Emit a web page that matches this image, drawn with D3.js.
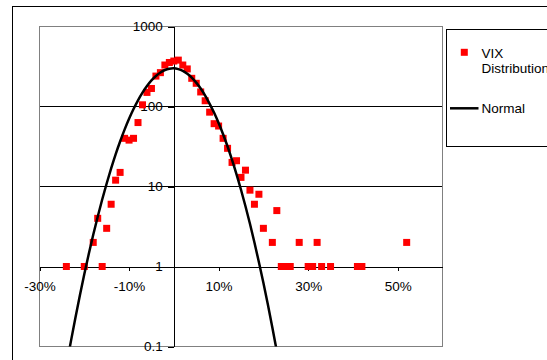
<!DOCTYPE html>
<html>
<head>
<meta charset="utf-8">
<script src="https://d3js.org/d3.v7.min.js"></script>
<style>
  body { margin: 0; background: #fff; }
  svg { display: block; font-family: 'Liberation Sans', Arial, sans-serif; }
  .axis text { font-size: 13.5px; fill: #000; font-family: 'Liberation Sans', Arial, sans-serif; }
  .axis path, .axis line { stroke: #000; shape-rendering: crispEdges; }
  .legend-text { font-size: 13.5px; fill: #000; }
</style>
</head>
<body>
<div id="chart"></div>
<script>
// VIX daily change histogram (% change, count)
var vixChange = [-24, -20, -18, -17, -16, -15, -14, -13, -12, -11, -10, -9, -8, -7, -6, -5, -4, -3, -2, -1,
    0, 1, 2, 3, 4, 5, 6, 7, 8, 9, 10, 11, 12, 13, 14, 15, 16, 17, 18, 19, 20,
    22, 23, 24, 25, 26, 28, 30, 31, 32, 33, 35, 41, 42, 52];
var vixCount = [1, 1, 2, 4, 1, 3, 6, 12, 15, 40, 38, 40, 63, 105, 150, 168, 240, 265, 330, 355,
    370, 380, 330, 295, 225, 195, 152, 118, 85, 61, 57, 40, 30, 20, 21, 13, 16, 9, 6, 8, 3,
    2, 5, 1, 1, 1, 2, 1, 1, 2, 1, 1, 1, 1, 2];

// normal curve
var normalX = [-24, -23, -22, -21, -20, -19, -18, -17, -16, -15, -14, -13, -12, -11, -10, -9, -8, -7, -6, -5, -4, -3, -2, -1,
    0, 1, 2, 3, 4, 5, 6, 7, 8, 9, 10, 11, 12, 13, 14, 15, 16, 17, 18, 19, 20, 21, 22, 23, 24];
var normalY = [0.057, 0.115, 0.226, 0.43, 0.8, 1.43, 2.49, 4.19, 6.87, 10.9, 16.8, 25.2, 36.5, 51.4, 70.2, 92.9, 119.5, 149, 180, 212, 241, 266, 286, 297,
    300, 293, 279, 257, 230, 199, 168, 137, 108, 83.4, 62.2, 45, 31.6, 21.5, 14.2, 9.1, 5.66, 3.42, 2.0, 1.13, 0.625, 0.334, 0.173, 0.087, 0.043];

// axis ticks
var xTicks = [-30, -10, 10, 30, 50];
var yTicks = [0.1, 1, 10, 100, 1000];
var gridValues = [100, 10];

var svgWidth = 547;
var svgHeight = 360;

// plot area
var plot = { left: 39.5, top: 26.5, right: 442.5, bottom: 346.5 };

var svg = d3.select('#chart')
    .append('svg')
    .attr('width', svgWidth)
    .attr('height', svgHeight);

var xScale = d3.scaleLinear()
    .domain([-30, 60])
    .range([plot.left, plot.right]);

var yScale = d3.scaleLog()
    .domain([0.1, 1000])
    .range([plot.bottom, plot.top]);

// outer chart border
svg.append('rect')
    .attr('x', 12.5)
    .attr('y', 6.5)
    .attr('width', 700)
    .attr('height', 500)
    .attr('fill', '#fff')
    .attr('stroke', '#000');

svg.append('clipPath')
    .attr('id', 'plot-clip')
    .append('rect')
    .attr('x', plot.left)
    .attr('y', plot.top)
    .attr('width', plot.right - plot.left)
    .attr('height', plot.bottom - plot.top);

// gridlines
svg.append('g')
    .selectAll('line')
    .data(gridValues)
    .enter()
    .append('line')
    .attr('x1', plot.left)
    .attr('x2', plot.right)
    .attr('y1', d => yScale(d))
    .attr('y2', d => yScale(d))
    .attr('stroke', '#000')
    .attr('shape-rendering', 'crispEdges');

// plot area border
svg.append('rect')
    .attr('x', plot.left)
    .attr('y', plot.top)
    .attr('width', plot.right - plot.left)
    .attr('height', plot.bottom - plot.top)
    .attr('fill', 'none')
    .attr('stroke', '#808080')
    .attr('shape-rendering', 'crispEdges');

// y axis at x = 0
svg.append('g')
    .attr('class', 'axis')
    .attr('transform', `translate(${xScale(0)}, 0)`)
    .call(d3.axisLeft(yScale)
        .tickValues(yTicks)
        .tickFormat(d => String(d))
        .tickSize(6)
        .tickSizeOuter(0)
        .tickPadding(5));

// x axis crosses at 1
svg.append('g')
    .attr('class', 'axis')
    .attr('transform', `translate(0, ${yScale(1)})`)
    .call(d3.axisBottom(xScale)
        .tickValues(xTicks)
        .tickFormat(d => d + '%')
        .tickSize(4)
        .tickSizeOuter(0)
        .tickPadding(11));

// VIX markers
var markerSize = 7;
svg.append('g')
    .attr('clip-path', 'url(#plot-clip)')
    .selectAll('rect')
    .data(vixChange)
    .enter()
    .append('rect')
    .attr('x', d => xScale(d) - markerSize / 2)
    .attr('y', (d, i) => yScale(vixCount[i]) - markerSize / 2)
    .attr('width', markerSize)
    .attr('height', markerSize)
    .attr('fill', '#ff0000');

// normal curve
var line = d3.line()
    .x(d => xScale(d))
    .y((d, i) => yScale(normalY[i]))
    .curve(d3.curveCatmullRom);

svg.append('path')
    .datum(normalX)
    .attr('clip-path', 'url(#plot-clip)')
    .attr('d', line)
    .attr('fill', 'none')
    .attr('stroke', '#000')
    .attr('stroke-width', 2.5);

// legend
var legend = svg.append('g');

legend.append('rect')
    .attr('x', 446.5)
    .attr('y', 29.5)
    .attr('width', 200)
    .attr('height', 117)
    .attr('fill', '#fff')
    .attr('stroke', '#000')
    .attr('shape-rendering', 'crispEdges');

legend.append('rect')
    .attr('x', 464.3 - markerSize / 2)
    .attr('y', 52.3 - markerSize / 2)
    .attr('width', markerSize)
    .attr('height', markerSize)
    .attr('fill', '#ff0000');

legend.append('text')
    .attr('class', 'legend-text')
    .attr('x', 481.5)
    .attr('y', 57.5)
    .text('VIX');

legend.append('text')
    .attr('class', 'legend-text')
    .attr('x', 481.5)
    .attr('y', 72.5)
    .text('Distribution');

legend.append('line')
    .attr('x1', 450)
    .attr('x2', 478.5)
    .attr('y1', 108.3)
    .attr('y2', 108.3)
    .attr('stroke', '#000')
    .attr('stroke-width', 2.5);

legend.append('text')
    .attr('class', 'legend-text')
    .attr('x', 481.5)
    .attr('y', 113)
    .text('Normal');
</script>
</body>
</html>
